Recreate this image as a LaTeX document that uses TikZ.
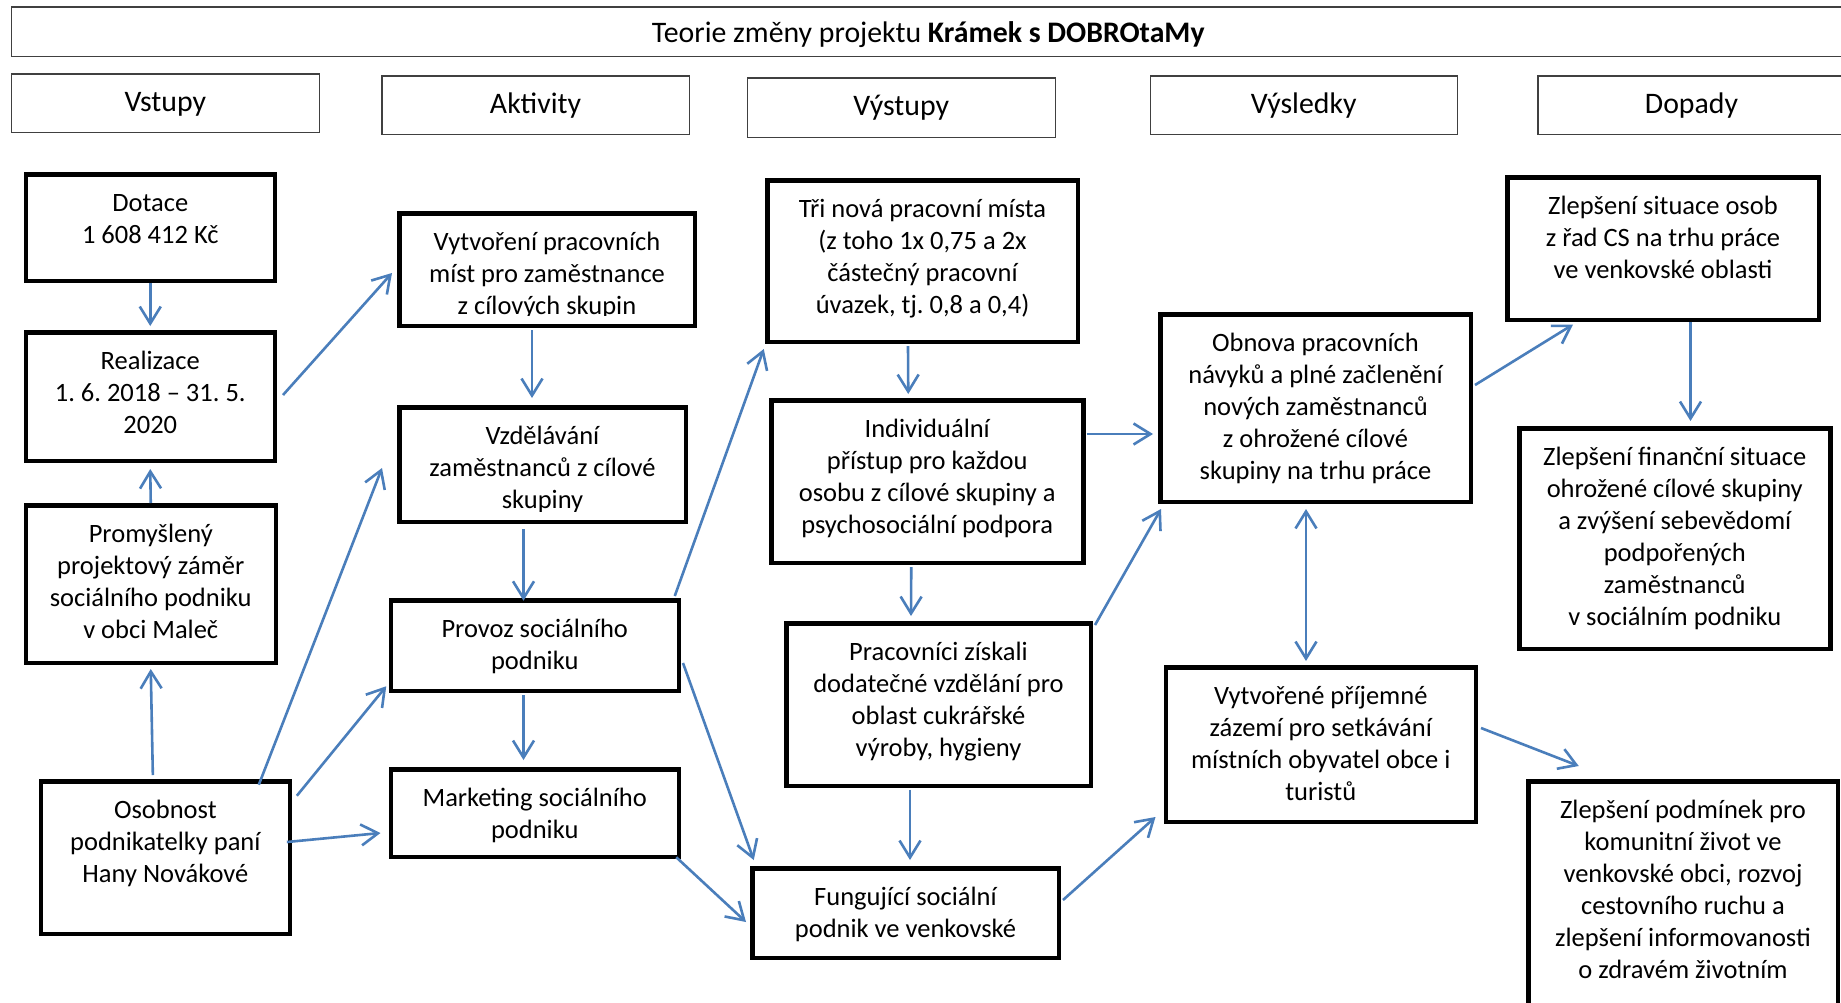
\documentclass[tikz,border=0pt]{standalone}
\usepackage{fontspec}
\setmainfont{Carlito}
\usetikzlibrary{arrows.meta,calc}
\definecolor{arrblue}{RGB}{74,126,187}
\definecolor{hdrgray}{RGB}{64,64,64}
\frenchspacing
\begin{document}
\begin{tikzpicture}[x=1pt,y=-1pt,
  box/.style={draw=black,line width=4.5pt,inner sep=0pt},
  hdr/.style={draw=hdrgray,line width=1.5pt,inner sep=0pt},
  txt/.style={inner sep=0pt,align=flush center,anchor=base,text width=520pt,font=\fontsize{26.5}{32}\selectfont\frenchspacing},
  hdrtxt/.style={inner sep=0pt,anchor=base,font=\fontsize{29.8}{34}\selectfont},
  arr/.style={draw=arrblue,line width=2.6pt,-{Straight Barb[length=17pt,width=21pt]}},
  darr/.style={draw=arrblue,line width=2.6pt,{Straight Barb[length=17pt,width=21pt]}-{Straight Barb[length=17pt,width=21pt]}}
]
\useasboundingbox (0,0) rectangle (1841,1002);
\fill[white] (0,0) rectangle (1841,1002);
\clip (0,0) rectangle (1841,1002);

% headers
\node[hdr,minimum width=1834pt,minimum height=49.5pt] (title) at (928.3,31.5) {};
\node[hdr,minimum width=308pt,minimum height=58.5pt] (vst) at (165.3,103) {};
\node[hdr,minimum width=307.5pt,minimum height=58.5pt] (akt) at (535.5,105) {};
\node[hdr,minimum width=308pt,minimum height=59.5pt] (vys) at (901.25,107.5) {};
\node[hdr,minimum width=307pt,minimum height=58.5pt] (vsl) at (1303.75,105) {};
\node[hdr,minimum width=307.5pt,minimum height=58.5pt] (dop) at (1691.5,105) {};

\node[hdrtxt] (title-t) at ([shift={(0,36.75)}]title.north) {Teorie změny projektu \textbf{Krámek s DOBROtaMy}};
\node[hdrtxt] (vst-t) at ([shift={(0,38)}]vst.north) {Vstupy};
\node[hdrtxt] (akt-t) at ([shift={(0,38)}]akt.north) {Aktivity};
\node[hdrtxt] (vys-t) at ([shift={(0,38)}]vys.north) {Výstupy};
\node[hdrtxt] (vsl-t) at ([shift={(0,38)}]vsl.north) {Výsledky};
\node[hdrtxt] (dop-t) at ([shift={(0,38)}]dop.north) {Dopady};

% boxes
\node[box,minimum width=249pt,minimum height=106.5pt] (dot) at (150.25,227.5) {};
\node[box,minimum width=249pt,minimum height=128.5pt] (real) at (150.25,396.5) {};
\node[box,minimum width=250pt,minimum height=157.5pt] (prom) at (150.75,584) {};
\node[box,minimum width=249pt,minimum height=152.5pt] (osob) at (165.35,857.5) {};
\node[box,minimum width=295.5pt,minimum height=112.5pt] (vytv) at (547,269.5) {};
\node[box,minimum width=286.5pt,minimum height=114.5pt] (vzd) at (542.5,464.5) {};
\node[box,minimum width=288pt,minimum height=90.5pt] (prov) at (534.75,645.5) {};
\node[box,minimum width=288pt,minimum height=87.5pt] (mark) at (534.75,813) {};
\node[box,minimum width=310.5pt,minimum height=161.5pt] (tri) at (922.5,261) {};
\node[box,minimum width=312pt,minimum height=162.5pt] (indi) at (927.25,481.5) {};
\node[box,minimum width=304.5pt,minimum height=162.5pt] (prac) at (938.5,704.5) {};
\node[box,minimum width=306.5pt,minimum height=89.5pt] (fung) at (905.5,913) {};
\node[box,minimum width=310.5pt,minimum height=187.5pt] (obn) at (1315.5,408) {};
\node[box,minimum width=310pt,minimum height=154.5pt] (vpri) at (1320.75,744.5) {};
\node[box,minimum width=311.5pt,minimum height=142.5pt] (zso) at (1663,248.5) {};
\node[box,minimum width=311pt,minimum height=220.5pt] (zfin) at (1674.75,538.5) {};
\node[box,minimum width=309.5pt,minimum height=276.5pt] (zpod) at (1683,919.5) {};

% texts
\node[txt] (dot-t) at ([shift={(0,39.5)}]dot.north) {Dotace\\1 608 412 Kč};
\node[txt] (real-t) at ([shift={(0,39.5)}]real.north) {Realizace\\1. 6. 2018 – 31. 5.\\2020};
\node[txt] (prom-t) at ([shift={(0,39.5)}]prom.north) {Promyšlený\\projektový záměr\\sociálního podniku\\v obci Maleč};
\node[txt] (osob-t) at ([shift={(0,39.5)}]osob.north) {Osobnost\\podnikatelky paní\\Hany Novákové};
\begin{scope}
\clip (vytv.north west) rectangle ([shift={(0,-13)}]vytv.south east);
\node[txt] (vytv-t) at ([shift={(0,39.5)}]vytv.north) {Vytvoření pracovních\\míst pro zaměstnance\\z cílových skupin};
\end{scope}
\begin{scope}
\clip (vzd.north west) rectangle ([shift={(0,-13)}]vzd.south east);
\node[txt] (vzd-t) at ([shift={(0,39.5)}]vzd.north) {Vzdělávání\\zaměstnanců z cílové\\skupiny};
\end{scope}
\node[txt] (prov-t) at ([shift={(0,39.5)}]prov.north) {Provoz sociálního\\podniku};
\node[txt] (mark-t) at ([shift={(0,39.5)}]mark.north) {Marketing sociálního\\podniku};
\node[txt] (tri-t) at ([shift={(0,39.5)}]tri.north) {Tři nová pracovní místa\\(z toho 1x 0,75 a 2x\\částečný pracovní\\úvazek, tj. 0,8 a 0,4)};
\node[txt] (indi-t) at ([shift={(0,39.5)}]indi.north) {Individuální\\přístup pro každou\\osobu z cílové skupiny a\\psychosociální podpora};
\node[txt] (prac-t) at ([shift={(0,39.5)}]prac.north) {Pracovníci získali\\dodatečné vzdělání pro\\oblast cukrářské\\výroby, hygieny};
\node[txt] (fung-t) at ([shift={(0,39.5)}]fung.north) {Fungující sociální\\podnik ve venkovské};
\node[txt] (obn-t) at ([shift={(0,39.5)}]obn.north) {Obnova pracovních\\návyků a plné začlenění\\nových zaměstnanců\\z ohrožené cílové\\skupiny na trhu práce};
\node[txt] (vpri-t) at ([shift={(0,39.5)}]vpri.north) {Vytvořené příjemné\\zázemí pro setkávání\\místních obyvatel obce i\\turistů};
\node[txt] (zso-t) at ([shift={(0,39.5)}]zso.north) {Zlepšení situace osob\\z řad CS na trhu práce\\ve venkovské oblasti};
\node[txt] (zfin-t) at ([shift={(0,39.5)}]zfin.north) {Zlepšení finanční situace\\ohrožené cílové skupiny\\a zvýšení sebevědomí\\podpořených\\zaměstnanců\\v sociálním podniku};
\node[txt] (zpod-t) at ([shift={(0,39.5)}]zpod.north) {Zlepšení podmínek pro\\komunitní život ve\\venkovské obci, rozvoj\\cestovního ruchu a\\zlepšení informovanosti\\o zdravém životním};

% arrows
\draw[arr] (dot.south) -- ([shift={(0,-4)}]real.north);
\draw[arr] (prom.north) -- ([shift={(0,6)}]real.south);
\draw[arr] ([shift={(-12.5,-4)}]osob.north) -- ([shift={(0,4)}]prom.south);
\draw[arr] ([shift={(6,-1.5)}]real.east) -- ([shift={(-5,3.5)}]vytv.west);
\draw[arr] ([shift={(-33.3,5.75)}]osob.north east) -- ([shift={(-15,3.5)}]vzd.west);
\draw[arr] ([shift={(4.75,16.75)}]osob.north east) -- ([shift={(-2.25,-6.75)}]prov.south west);
\draw[arr] ([shift={(-5.25,-15.5)}]osob.east) -- ([shift={(-8,20)}]mark.west);
\draw[arr] ([shift={(-15,2)}]vytv.south) -- ([shift={(-10.5,-7)}]vzd.north);
\draw[arr] ([shift={(-19,5)}]vzd.south) -- ([shift={(-11.25,2.75)}]prov.north);
\draw[arr] ([shift={(-11.25,2)}]prov.south) -- ([shift={(-11.25,-7)}]mark.north);
\draw[arr] ([shift={(-6.25,-2)}]prov.north east) -- ([shift={(-1.25,5)}]tri.south west);
\draw[arr] ([shift={(2,17.5)}]prov.east) -- ([shift={(3.75,-6)}]fung.north west);
\draw[arr] ([shift={(-4.75,-1.75)}]mark.south east) -- ([shift={(-4,9)}]fung.west);
\draw[arr] ([shift={(-14.5,2)}]tri.south) -- ([shift={(-19,-4)}]indi.north);
\draw[arr] ([shift={(-16,2)}]indi.south) -- ([shift={(-27.5,-5)}]prac.north);
\draw[arr] ([shift={(-28.5,1.5)}]prac.south) -- ([shift={(4.5,-6)}]fung.north);
\draw[arr] ([shift={(1,-47.5)}]indi.east) -- ([shift={(-5,26)}]obn.west);
\draw[arr] ([shift={(2,4)}]prac.north east) -- ([shift={(3,5)}]obn.south west);
\draw[arr] ([shift={(2,-13)}]fung.east) -- ([shift={(-8,-7)}]vpri.south west);
\draw[darr] ([shift={(-9.5,5)}]obn.south) -- ([shift={(-14.75,-4)}]vpri.north);
\draw[arr] ([shift={(2,-23)}]obn.east) -- ([shift={(68,2.5)}]zso.south west);
\draw[arr] ([shift={(27.5,0)}]zso.south) -- ([shift={(15.75,-5)}]zfin.north);
\draw[arr] ([shift={(3,-16.5)}]vpri.east) -- ([shift={(52.75,-13)}]zpod.north west);
\end{tikzpicture}
\end{document}
